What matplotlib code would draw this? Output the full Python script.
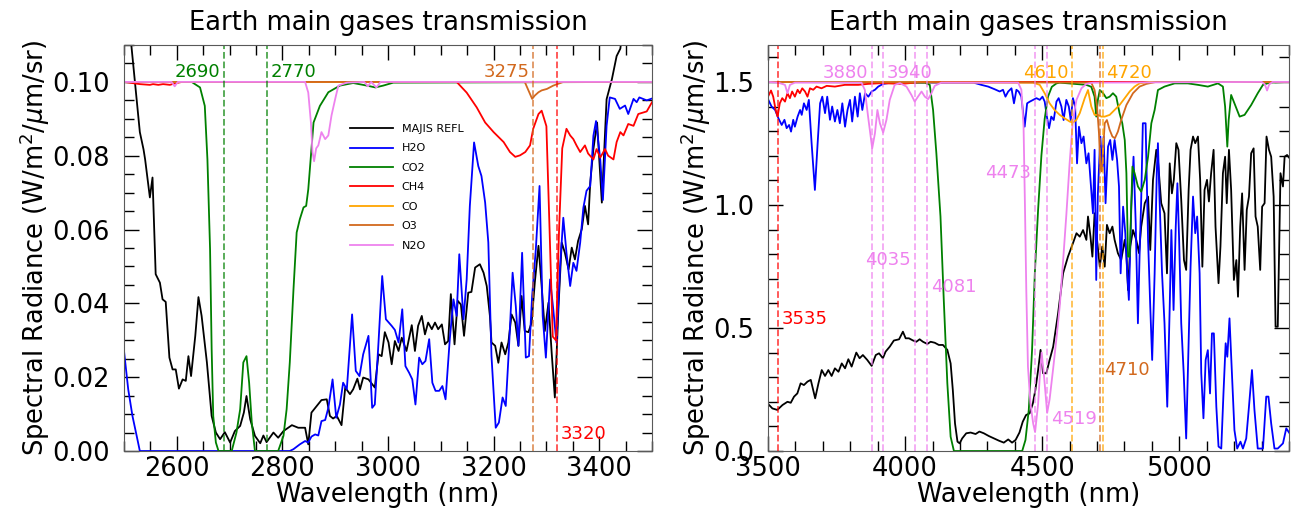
import numpy as np
import matplotlib
matplotlib.use("Agg")
import matplotlib.pyplot as plt
from matplotlib.ticker import MultipleLocator, FormatStrFormatter

# ---------------- left panel (2500-3500 nm), values as plotted ----------------
L_REFL = np.array([
    (2500, 0.13), (2514, 0.1098), (2530, 0.0864), (2537, 0.0817), (2540, 0.079), (2549, 0.0687),
    (2554, 0.0741), (2560, 0.0479), (2568, 0.0456), (2573, 0.0411), (2579, 0.0404), (2586, 0.0253),
    (2592, 0.0221), (2598, 0.0221), (2604, 0.0169), (2611, 0.0194), (2617, 0.019), (2622, 0.0257),
    (2627, 0.0203), (2635, 0.0312), (2641, 0.0417), (2647, 0.0366), (2657, 0.024), (2666, 0.0095),
    (2674, 0.005), (2682, 0.0032), (2691, 0.0051), (2701, 0.0023), (2710, 0.0054), (2720, 0.0068),
    (2727, 0.0104), (2732, 0.0149), (2739, 0.0086), (2748, 0.0041), (2758, 0.0021), (2764, 0.0042),
    (2770, 0.0024), (2783, 0.005), (2792, 0.0036), (2802, 0.0054), (2818, 0.007), (2830, 0.0063),
    (2843, 0.0063), (2849, 0.0018), (2855, 0.0104), (2865, 0.0122), (2874, 0.0138), (2884, 0.014),
    (2890, 0.0095), (2896, 0.0088), (2903, 0.0095), (2912, 0.007), (2919, 0.0172), (2928, 0.0154),
    (2934, 0.0167), (2942, 0.0196), (2947, 0.0167), (2953, 0.0199), (2963, 0.0194), (2975, 0.0172),
    (2982, 0.0262), (2988, 0.0257), (2994, 0.0322), (3001, 0.0294), (3007, 0.0235), (3013, 0.0298),
    (3020, 0.0271), (3026, 0.0307), (3035, 0.0271), (3045, 0.0341), (3051, 0.0271), (3057, 0.0339),
    (3064, 0.0366), (3070, 0.0316), (3076, 0.0348), (3083, 0.033), (3089, 0.0348), (3095, 0.033),
    (3102, 0.0343), (3108, 0.0289), (3114, 0.0298), (3119, 0.0425), (3126, 0.0289), (3132, 0.0407),
    (3138, 0.0397), (3144, 0.0312), (3152, 0.0429), (3158, 0.0431), (3165, 0.0497), (3174, 0.0506),
    (3181, 0.0483), (3187, 0.0447), (3193, 0.0366), (3196, 0.0294), (3203, 0.0285), (3209, 0.0239),
    (3215, 0.0294), (3222, 0.0262), (3228, 0.0294), (3234, 0.037), (3241, 0.0348), (3247, 0.0285),
    (3253, 0.042), (3259, 0.0325), (3266, 0.0322), (3272, 0.0348), (3278, 0.0456), (3285, 0.0556),
    (3291, 0.0447), (3297, 0.0325), (3304, 0.0402), (3310, 0.0266), (3316, 0.0145), (3323, 0.0393),
    (3329, 0.0565), (3335, 0.0537), (3342, 0.0492), (3348, 0.0551), (3354, 0.0519), (3360, 0.0569),
    (3367, 0.0601), (3373, 0.0664), (3379, 0.0614), (3383, 0.0727), (3389, 0.0818), (3396, 0.089),
    (3405, 0.0673), (3414, 0.0953), (3424, 0.1007), (3433, 0.107), (3440, 0.109), (3450, 0.12),
    (3500, 0.15)])
L_H2O = np.array([
    (2500, 0.0271), (2508, 0.0167), (2516, 0.0095), (2524, 0.0041), (2530, 0.0), (2814, 0.0),
    (2821, 0.0005), (2833, 0.0018), (2843, 0.0027), (2849, 0.0023), (2855, 0.0039), (2862, 0.0045),
    (2868, 0.0042), (2874, 0.0081), (2881, 0.0084), (2887, 0.0117), (2895, 0.0194), (2902, 0.009),
    (2909, 0.0126), (2915, 0.0185), (2922, 0.0167), (2932, 0.037), (2939, 0.0217), (2946, 0.0203),
    (2953, 0.0262), (2963, 0.0312), (2970, 0.0117), (2975, 0.0126), (2982, 0.0294), (2989, 0.0474),
    (2996, 0.0357), (3007, 0.0339), (3013, 0.0328), (3020, 0.0294), (3027, 0.0384), (3033, 0.023),
    (3040, 0.0212), (3046, 0.0194), (3052, 0.0126), (3059, 0.0253), (3065, 0.0235), (3071, 0.0244),
    (3078, 0.0303), (3084, 0.0185), (3090, 0.0163), (3097, 0.0163), (3103, 0.0176), (3109, 0.014),
    (3117, 0.0303), (3124, 0.0411), (3130, 0.0366), (3135, 0.0533), (3143, 0.0357), (3149, 0.0465),
    (3155, 0.0664), (3163, 0.0836), (3171, 0.0772), (3177, 0.0745), (3184, 0.0673), (3190, 0.0565),
    (3196, 0.0257), (3204, 0.0063), (3210, 0.0077), (3217, 0.0145), (3223, 0.0122), (3229, 0.0276),
    (3236, 0.0483), (3242, 0.0393), (3247, 0.0285), (3254, 0.0537), (3261, 0.0253), (3267, 0.0257),
    (3273, 0.042), (3280, 0.0547), (3287, 0.0718), (3293, 0.0366), (3299, 0.0253), (3307, 0.0465),
    (3313, 0.0384), (3319, 0.0294), (3326, 0.0501), (3332, 0.0632), (3338, 0.0537), (3345, 0.0447),
    (3351, 0.051), (3357, 0.0488), (3364, 0.0565), (3370, 0.0659), (3376, 0.0705), (3383, 0.0718),
    (3389, 0.0854), (3394, 0.0894), (3402, 0.079), (3407, 0.068), (3414, 0.0881), (3420, 0.0958),
    (3430, 0.0954), (3439, 0.0927), (3449, 0.0936), (3455, 0.0913), (3465, 0.0954), (3471, 0.0945),
    (3476, 0.0958), (3490, 0.095), (3500, 0.0955)])
L_CO2 = np.array([
    (2500, 0.1), (2628, 0.1), (2644, 0.0985), (2653, 0.0935), (2658, 0.079), (2663, 0.0547),
    (2666, 0.0276), (2669, 0.0095), (2674, 0.0023), (2679, 0.0), (2704, 0.0), (2713, 0.005),
    (2720, 0.0113), (2726, 0.024), (2732, 0.0257), (2737, 0.0185), (2742, 0.0077), (2748, 0.0),
    (2792, 0.0), (2802, 0.0041), (2808, 0.0113), (2814, 0.024), (2821, 0.0438), (2827, 0.0592),
    (2833, 0.0628), (2840, 0.066), (2845, 0.0664), (2849, 0.0709), (2855, 0.0818), (2859, 0.089),
    (2871, 0.0935), (2887, 0.0972), (2909, 0.099), (2934, 0.0997), (2960, 0.099), (2976, 0.0985),
    (2991, 0.099), (3010, 0.0998), (3500, 0.1)])
L_CH4 = np.array([
    (2500, 0.1), (2530, 0.0994), (2549, 0.0992), (2555, 0.0994), (2565, 0.0992), (2574, 0.0994),
    (2587, 0.0992), (2596, 0.0996), (2610, 0.1), (3130, 0.1), (3149, 0.0971), (3168, 0.0931),
    (3184, 0.089), (3200, 0.0864), (3219, 0.0837), (3231, 0.081), (3241, 0.0797), (3250, 0.0801),
    (3260, 0.081), (3269, 0.0828), (3275, 0.0873), (3285, 0.0913), (3291, 0.0922), (3300, 0.088),
    (3306, 0.06), (3312, 0.031), (3318, 0.03), (3324, 0.06), (3330, 0.082), (3338, 0.0873),
    (3345, 0.0855), (3351, 0.0845), (3357, 0.0828), (3364, 0.081), (3373, 0.0828), (3379, 0.0806),
    (3389, 0.079), (3395, 0.0818), (3402, 0.0795), (3411, 0.0818), (3417, 0.08), (3427, 0.079),
    (3433, 0.0837), (3440, 0.0864), (3446, 0.0855), (3455, 0.0886), (3465, 0.0881), (3474, 0.0913),
    (3490, 0.092), (3500, 0.0945)])
L_CO = np.array([(2500, 0.1), (3500, 0.1)])
L_O3 = np.array([
    (2500, 0.1), (3259, 0.1), (3266, 0.0977), (3273, 0.0954), (3278, 0.0963), (3285, 0.0972),
    (3291, 0.0977), (3301, 0.0981), (3313, 0.099), (3332, 0.1), (3500, 0.1)])
L_N2O = np.array([
    (2500, 0.1), (2590, 0.1), (2596, 0.0988), (2602, 0.1), (2843, 0.1), (2849, 0.0971),
    (2854, 0.089), (2857, 0.081), (2860, 0.0785), (2864, 0.082), (2868, 0.0828), (2874, 0.0864),
    (2881, 0.0845), (2887, 0.0855), (2893, 0.0909), (2900, 0.0954), (2906, 0.099), (2922, 0.0998),
    (2955, 0.1), (2962, 0.0988), (2968, 0.1), (2978, 0.0985), (2986, 0.1), (3500, 0.1)])

# ---------------- right panel (3500-5400 nm) ----------------
R_REFL = np.array([
    (3500, 0.19), (3504, 0.187), (3516, 0.173), (3534, 0.167), (3553, 0.187), (3571, 0.2),
    (3583, 0.196), (3595, 0.221), (3607, 0.234), (3619, 0.275), (3631, 0.268), (3644, 0.282),
    (3656, 0.289), (3672, 0.214), (3684, 0.275), (3696, 0.329), (3708, 0.305), (3720, 0.329),
    (3732, 0.305), (3744, 0.336), (3757, 0.322), (3769, 0.356), (3781, 0.336), (3793, 0.373),
    (3805, 0.343), (3822, 0.4), (3834, 0.377), (3846, 0.39), (3862, 0.37), (3878, 0.346),
    (3893, 0.39), (3905, 0.397), (3919, 0.377), (3929, 0.404), (3944, 0.424), (3959, 0.449),
    (3978, 0.454), (3992, 0.485), (4002, 0.458), (4014, 0.458), (4029, 0.449), (4041, 0.444),
    (4053, 0.454), (4065, 0.444), (4081, 0.435), (4093, 0.444), (4108, 0.44), (4123, 0.431),
    (4138, 0.431), (4154, 0.411), (4166, 0.356), (4174, 0.248), (4182, 0.112), (4191, 0.038),
    (4199, 0.031), (4208, 0.051), (4223, 0.072), (4239, 0.075), (4257, 0.069), (4271, 0.079),
    (4287, 0.072), (4305, 0.061), (4324, 0.051), (4342, 0.042), (4360, 0.034), (4376, 0.047),
    (4390, 0.034), (4403, 0.045), (4417, 0.075), (4429, 0.119), (4441, 0.146), (4454, 0.153),
    (4466, 0.194), (4475, 0.248), (4485, 0.329), (4494, 0.411), (4503, 0.316), (4515, 0.316),
    (4527, 0.37), (4540, 0.424), (4558, 0.56), (4576, 0.722), (4594, 0.79), (4612, 0.844),
    (4625, 0.885), (4637, 0.871), (4649, 0.898), (4661, 0.858), (4667, 0.953), (4676, 0.871),
    (4683, 0.79), (4691, 0.966), (4700, 0.858), (4710, 0.749), (4719, 0.831), (4728, 0.749),
    (4736, 0.919), (4746, 0.885), (4756, 0.912), (4764, 0.858), (4776, 0.804), (4788, 0.776),
    (4801, 0.858), (4807, 0.804), (4813, 0.654), (4821, 0.831), (4831, 0.898), (4843, 0.858),
    (4853, 0.804), (4861, 0.912), (4874, 1.007), (4886, 1.034), (4894, 0.817), (4904, 1.102),
    (4916, 1.224), (4922, 1.183), (4934, 1.007), (4946, 0.966), (4955, 0.722), (4965, 1.169),
    (4973, 1.047), (4980, 1.102), (4989, 1.251), (4997, 1.224), (5007, 1.02), (5017, 0.776),
    (5025, 0.736), (5034, 1.061), (5041, 1.224), (5050, 1.278), (5058, 1.251), (5068, 1.278),
    (5076, 1.102), (5084, 0.749), (5092, 1.061), (5101, 1.102), (5108, 1.014), (5116, 1.129),
    (5125, 1.224), (5132, 0.912), (5143, 0.682), (5150, 0.831), (5159, 1.129), (5167, 1.196),
    (5173, 1.007), (5181, 1.224), (5189, 1.061), (5199, 0.695), (5208, 0.776), (5214, 0.627),
    (5222, 0.912), (5229, 1.047), (5238, 0.736), (5246, 0.98), (5254, 1.034), (5262, 1.21),
    (5271, 1.23), (5278, 0.953), (5286, 0.912), (5295, 0.736), (5302, 0.993), (5311, 1.007),
    (5318, 1.278), (5327, 1.224), (5335, 1.196), (5344, 1.034), (5351, 0.505), (5359, 0.505),
    (5369, 1.129), (5378, 1.075), (5384, 1.196), (5393, 1.203), (5402, 1.19)])
R_H2O = np.array([
    (3500, 1.43), (3513, 1.4), (3526, 1.386), (3538, 1.352), (3550, 1.325), (3560, 1.346),
    (3568, 1.312), (3577, 1.325), (3584, 1.298), (3592, 1.346), (3598, 1.318), (3608, 1.359),
    (3617, 1.386), (3623, 1.366), (3631, 1.413), (3641, 1.386), (3649, 1.427), (3659, 1.251),
    (3671, 1.061), (3681, 1.251), (3690, 1.413), (3698, 1.44), (3708, 1.373), (3716, 1.44),
    (3726, 1.346), (3734, 1.4), (3744, 1.339), (3753, 1.386), (3762, 1.332), (3771, 1.413),
    (3781, 1.318), (3790, 1.386), (3799, 1.427), (3807, 1.339), (3817, 1.44), (3827, 1.359),
    (3835, 1.454), (3844, 1.386), (3854, 1.454), (3866, 1.44), (3878, 1.461), (3890, 1.468),
    (3902, 1.481), (3920, 1.492), (3951, 1.497), (4250, 1.497), (4278, 1.488), (4303, 1.481),
    (4327, 1.47), (4345, 1.461), (4357, 1.468), (4366, 1.44), (4376, 1.461), (4388, 1.474),
    (4397, 1.413), (4406, 1.468), (4414, 1.461), (4424, 1.44), (4436, 1.318), (4445, 1.413),
    (4455, 1.42), (4467, 1.427), (4479, 1.434), (4491, 1.427), (4501, 1.44), (4509, 1.42),
    (4518, 1.352), (4525, 1.312), (4533, 1.359), (4542, 1.345), (4552, 1.42), (4560, 1.434),
    (4570, 1.4), (4578, 1.345), (4588, 1.427), (4597, 1.4), (4604, 1.345), (4612, 1.434),
    (4620, 1.4), (4627, 1.169), (4634, 1.318), (4643, 1.251), (4651, 1.278), (4661, 1.169),
    (4669, 1.21), (4677, 1.088), (4685, 0.966), (4691, 1.224), (4697, 0.695), (4703, 1.047),
    (4712, 1.278), (4719, 1.142), (4724, 1.278), (4731, 1.007), (4740, 1.237), (4748, 1.264),
    (4756, 1.183), (4764, 1.264), (4773, 1.183), (4780, 1.075), (4786, 0.722), (4795, 0.993),
    (4803, 0.885), (4810, 0.722), (4816, 0.614), (4825, 0.993), (4833, 1.196), (4841, 0.925),
    (4849, 0.519), (4855, 0.79), (4861, 1.02), (4867, 1.332), (4877, 1.332), (4886, 0.858),
    (4894, 0.587), (4901, 0.37), (4910, 0.722), (4918, 1.142), (4922, 1.251), (4928, 1.02),
    (4937, 0.722), (4946, 0.519), (4956, 0.18), (4965, 0.587), (4971, 0.898), (4979, 0.573),
    (4987, 0.912), (4993, 1.088), (4999, 0.871), (5007, 0.519), (5016, 0.316), (5025, 0.051),
    (5034, 0.451), (5041, 0.749), (5050, 1.034), (5058, 0.885), (5065, 0.953), (5074, 0.722),
    (5080, 0.316), (5088, 0.133), (5096, 0.37), (5104, 0.41), (5112, 0.234), (5119, 0.478),
    (5126, 0.478), (5135, 0.18), (5143, 0.018), (5153, 0.01), (5161, 0.234), (5169, 0.438),
    (5175, 0.383), (5183, 0.539), (5192, 0.316), (5201, 0.085), (5211, 0.01), (5223, 0.038),
    (5232, 0.01), (5244, 0.051), (5254, 0.18), (5265, 0.329), (5274, 0.167), (5286, 0.01),
    (5305, 0.01), (5317, 0.221), (5325, 0.221), (5335, 0.112), (5347, 0.01), (5359, 0.01),
    (5378, 0.031), (5390, 0.092), (5402, 0.072)])
R_CO2 = np.array([
    (3500, 1.5), (4072, 1.497), (4090, 1.488), (4102, 1.386), (4114, 1.21), (4129, 0.953),
    (4141, 0.614), (4154, 0.275), (4166, 0.058), (4178, 0.0), (4427, 0.0), (4439, 0.045),
    (4451, 0.167), (4463, 0.41), (4473, 0.72), (4485, 0.98), (4497, 1.2), (4509, 1.35),
    (4521, 1.44), (4535, 1.48), (4552, 1.494), (4564, 1.497), (4661, 1.488), (4679, 1.48),
    (4691, 1.44), (4697, 1.359), (4703, 1.427), (4710, 1.467), (4722, 1.454), (4734, 1.434),
    (4746, 1.44), (4758, 1.454), (4770, 1.44), (4782, 1.373), (4792, 1.332), (4801, 1.264),
    (4807, 1.129), (4813, 0.79), (4819, 0.79), (4829, 1.156), (4837, 1.129), (4849, 1.075),
    (4861, 1.054), (4874, 1.102), (4886, 1.196), (4898, 1.332), (4910, 1.386), (4922, 1.467),
    (4946, 1.481), (4983, 1.494), (5031, 1.494), (5068, 1.488), (5104, 1.481), (5141, 1.494),
    (5159, 1.481), (5167, 1.4), (5175, 1.237), (5180, 1.345), (5189, 1.447), (5201, 1.413),
    (5220, 1.359), (5238, 1.366), (5262, 1.406), (5286, 1.454), (5305, 1.488), (5329, 1.497),
    (5400, 1.5)])
R_CH4 = np.array([
    (3500, 1.44), (3511, 1.465), (3519, 1.44), (3528, 1.386), (3535, 1.359), (3543, 1.413),
    (3552, 1.434), (3562, 1.42), (3571, 1.454), (3580, 1.434), (3588, 1.461), (3598, 1.44),
    (3608, 1.468), (3616, 1.454), (3625, 1.474), (3635, 1.461), (3644, 1.44), (3653, 1.474),
    (3665, 1.468), (3677, 1.481), (3695, 1.474), (3714, 1.484), (3744, 1.481), (3780, 1.488),
    (3829, 1.488), (3865, 1.492), (3914, 1.495), (3987, 1.492), (4035, 1.497), (4060, 1.5),
    (5400, 1.5)])
R_CO = np.array([
    (3500, 1.5), (4467, 1.497), (4491, 1.488), (4509, 1.454), (4527, 1.413), (4545, 1.386),
    (4564, 1.366), (4582, 1.352), (4600, 1.339), (4612, 1.335), (4624, 1.345), (4637, 1.373),
    (4655, 1.434), (4667, 1.467), (4679, 1.4), (4691, 1.366), (4703, 1.366), (4715, 1.359),
    (4728, 1.359), (4746, 1.366), (4764, 1.386), (4782, 1.406), (4801, 1.434), (4819, 1.461),
    (4837, 1.481), (4855, 1.494), (4892, 1.5), (5400, 1.5)])
R_O3 = np.array([
    (3500, 1.5), (4679, 1.497), (4691, 1.467), (4700, 1.4), (4707, 1.291), (4712, 1.156),
    (4717, 1.136), (4722, 1.224), (4728, 1.332), (4736, 1.345), (4746, 1.305), (4756, 1.278),
    (4765, 1.271), (4776, 1.298), (4788, 1.345), (4807, 1.406), (4831, 1.454), (4855, 1.481),
    (4880, 1.492), (4916, 1.5), (5400, 1.5)])
R_N2O = np.array([
    (3500, 1.5), (3537, 1.497), (3562, 1.488), (3571, 1.454), (3580, 1.488), (3598, 1.497),
    (3841, 1.497), (3853, 1.468), (3865, 1.359), (3880, 1.23), (3890, 1.291), (3899, 1.386),
    (3908, 1.332), (3920, 1.294), (3932, 1.346), (3944, 1.427), (3962, 1.488), (3981, 1.495),
    (4005, 1.481), (4023, 1.447), (4035, 1.42), (4047, 1.44), (4060, 1.461), (4072, 1.44),
    (4084, 1.43), (4096, 1.454), (4108, 1.484), (4132, 1.497), (4412, 1.497), (4424, 1.468),
    (4432, 1.318), (4437, 1.0), (4442, 0.65), (4448, 0.343), (4457, 0.194), (4467, 0.112),
    (4474, 0.077), (4485, 0.19), (4491, 0.3), (4498, 0.4), (4507, 0.3), (4518, 0.155),
    (4527, 0.21), (4540, 0.336), (4552, 0.458), (4564, 0.59), (4576, 0.77), (4588, 0.96),
    (4600, 1.17), (4612, 1.346), (4625, 1.427), (4643, 1.474), (4661, 1.492), (4685, 1.497),
    (5300, 1.5), (5312, 1.49), (5320, 1.465), (5328, 1.49), (5340, 1.5), (5400, 1.5)])

GASES = ["MAJIS REFL", "H2O", "CO2", "CH4", "CO", "O3", "N2O"]
COLORS = {"MAJIS REFL": "black", "H2O": "blue", "CO2": "green", "CH4": "red",
          "CO": "orange", "O3": "chocolate", "N2O": "violet"}

LEFT = dict(zip(GASES, [L_REFL, L_H2O, L_CO2, L_CH4, L_CO, L_O3, L_N2O]))
RIGHT = dict(zip(GASES, [R_REFL, R_H2O, R_CO2, R_CH4, R_CO, R_O3, R_N2O]))

# band markers: (wavelength, gas, label)
LEFT_BANDS = [(2690, "CO2", "2690"), (2770, "CO2", "2770"), (3275, "O3", "3275"), (3320, "CH4", "3320")]
RIGHT_BANDS = [(3535, "CH4", "3535"), (3880, "N2O", "3880"), (3920, "N2O", "3940"),
               (4035, "N2O", "4035"), (4081, "N2O", "4081"), (4473, "N2O", "4473"),
               (4519, "N2O", "4519"), (4610, "CO", "4610"), (4710, "O3", "4710"),
               (4720, "CO", "4720")]

# label placement: label -> (y, side)
LEFT_TXT = {"2690": (0.1026, -1), "2770": (0.1026, 1), "3275": (0.1026, -1), "3320": (0.0045, 1)}
RIGHT_TXT = {"3535": (0.537, 1), "3880": (1.537, -1), "3940": (1.537, 1), "4035": (0.776, -1),
             "4081": (0.667, 1), "4473": (1.13, -1), "4519": (0.13, 1), "4610": (1.537, -1),
             "4710": (0.33, 1), "4720": (1.537, 1)}

FS = 18.5

fig = plt.figure(figsize=(12.99, 5.12), dpi=100)
W, H = 1299, 512
ax1 = fig.add_axes([124 / W, 1 - 451 / H, (652 - 124) / W, (451 - 45) / H])
ax2 = fig.add_axes([768 / W, 1 - 451 / H, (1289 - 768) / W, (451 - 45) / H])

ylabel = r"Spectral Radiance (W/m$^2$/$\mu$m/sr)"


def draw(ax, series, bands, txt, xlim, ylim, dx, xmaj, xmin, ymaj, ymin, yfmt):
    for g in GASES:
        d = series[g]
        ax.plot(d[:, 0], d[:, 1], color=COLORS[g], lw=1.3, label=g)
    for wl, g, lab in bands:
        ax.axvline(wl, color=COLORS[g], ls="--", lw=1.3, alpha=0.7)
        y, side = txt[lab]
        ax.text(wl + side * dx, y, lab, color=COLORS[g], fontsize=13,
                ha="left" if side > 0 else "right", va="center")
    ax.set_xlim(*xlim)
    ax.set_ylim(*ylim)
    ax.xaxis.set_major_locator(MultipleLocator(xmaj))
    ax.xaxis.set_minor_locator(MultipleLocator(xmin))
    ax.yaxis.set_major_locator(MultipleLocator(ymaj))
    ax.yaxis.set_minor_locator(MultipleLocator(ymin))
    ax.yaxis.set_major_formatter(FormatStrFormatter(yfmt))
    ax.tick_params(which="both", direction="in", top=True, right=True, labelsize=FS)
    ax.tick_params(which="major", length=11, width=1)
    ax.tick_params(which="minor", length=7, width=1)
    ax.tick_params(axis="y", which="major", pad=10)
    for s in ax.spines.values():
        s.set_color("0.35")
    ax.set_title("Earth main gases transmission", fontsize=FS, pad=11)
    ax.set_xlabel("Wavelength (nm)", fontsize=FS, labelpad=0)
    ax.set_ylabel(ylabel, fontsize=FS, labelpad=0)


draw(ax1, LEFT, LEFT_BANDS, LEFT_TXT, (2500, 3500), (0, 0.11), 7,
     200, 50, 0.02, 0.005, "%.2f")
ax1.set_xticks([2600, 2800, 3000, 3200, 3400])
draw(ax2, RIGHT, RIGHT_BANDS, RIGHT_TXT, (3500, 5400), (0, 1.65), 14,
     500, 100, 0.5, 0.1, "%.1f")

ax1.legend(loc="upper left", bbox_to_anchor=(0.41, 0.83), frameon=False, fontsize=8,
           handlelength=3.8, labelspacing=0.85)

fig.savefig("out.png", dpi=100)
